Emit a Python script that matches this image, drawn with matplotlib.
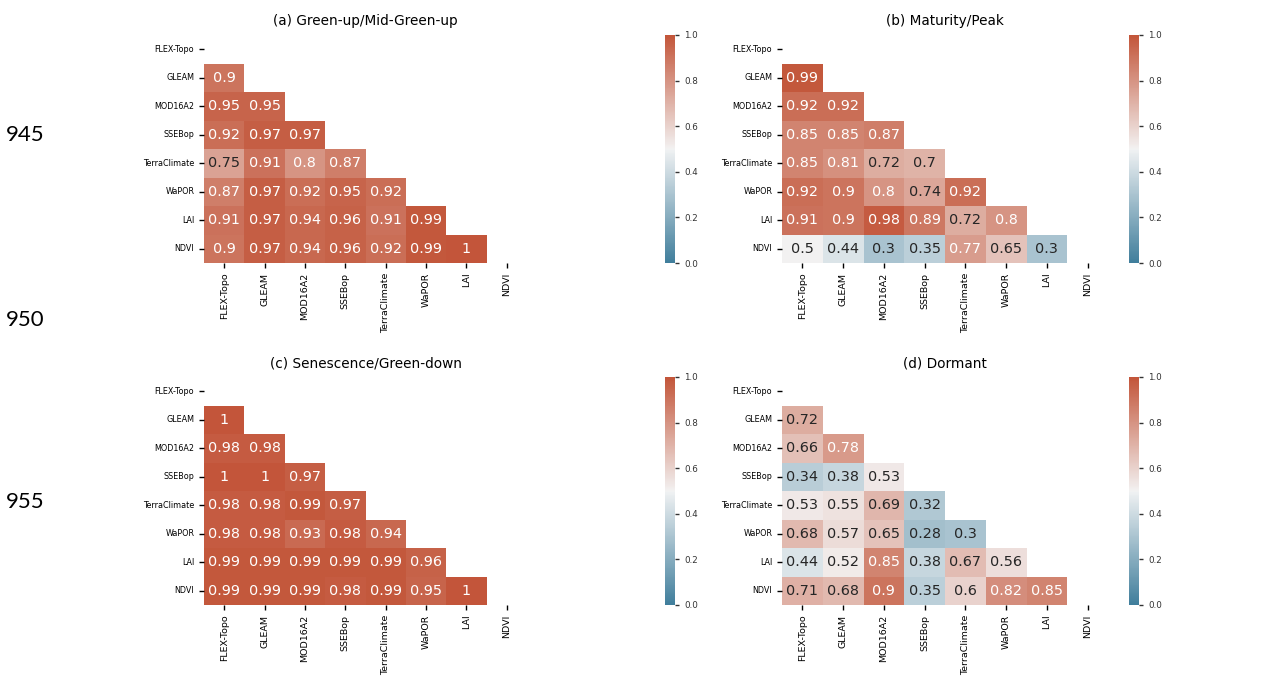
import numpy as np
import matplotlib
matplotlib.use('Agg')
import matplotlib.pyplot as plt
import seaborn as sns

LABELS = ['FLEX-Topo', 'GLEAM', 'MOD16A2', 'SSEBop', 'TerraClimate',
          'WaPOR', 'LAI', 'NDVI']

# lower-triangle rows (row i holds correlations with columns 0..i-1)
GREENUP = [
    [0.9],
    [0.95, 0.95],
    [0.92, 0.97, 0.97],
    [0.75, 0.91, 0.8, 0.87],
    [0.87, 0.97, 0.92, 0.95, 0.92],
    [0.91, 0.97, 0.94, 0.96, 0.91, 0.99],
    [0.9, 0.97, 0.94, 0.96, 0.92, 0.99, 1],
]
MATURITY = [
    [0.99],
    [0.92, 0.92],
    [0.85, 0.85, 0.87],
    [0.85, 0.81, 0.72, 0.7],
    [0.92, 0.9, 0.8, 0.74, 0.92],
    [0.91, 0.9, 0.98, 0.89, 0.72, 0.8],
    [0.5, 0.44, 0.3, 0.35, 0.77, 0.65, 0.3],
]
SENESCENCE = [
    [1],
    [0.98, 0.98],
    [1, 1, 0.97],
    [0.98, 0.98, 0.99, 0.97],
    [0.98, 0.98, 0.93, 0.98, 0.94],
    [0.99, 0.99, 0.99, 0.99, 0.99, 0.96],
    [0.99, 0.99, 0.99, 0.98, 0.99, 0.95, 1],
]
DORMANT = [
    [0.72],
    [0.66, 0.78],
    [0.34, 0.38, 0.53],
    [0.53, 0.55, 0.69, 0.32],
    [0.68, 0.57, 0.65, 0.28, 0.3],
    [0.44, 0.52, 0.85, 0.38, 0.67, 0.56],
    [0.71, 0.68, 0.9, 0.35, 0.6, 0.82, 0.85],
]
TITLES = ['(a) Green-up/Mid-Green-up', '(b) Maturity/Peak',
          '(c) Senescence/Green-down', '(d) Dormant']
LINE_NUMBERS = ['945', '950', '955']


def full_matrix(rows):
    n = len(LABELS)
    m = np.ones((n, n))
    for i, r in enumerate(rows, start=1):
        for j, v in enumerate(r):
            m[i, j] = v
            m[j, i] = v
    return m


W, H = 1274, 677
fig = plt.figure(figsize=(W / 100, H / 100), dpi=100)
cmap = sns.diverging_palette(230, 20, as_cmap=True)

# pixel boxes: (left, top, width, height)
heat_boxes = [(204, 35, 323, 228), (782, 35, 326, 228),
              (204, 377, 323, 228), (782, 377, 326, 228)]
cbar_boxes = [(665, 35, 10, 228), (1129, 35, 10, 228),
              (665, 377, 10, 228), (1129, 377, 10, 228)]


def to_fig(box):
    l, t, w, h = box
    return [l / W, 1 - (t + h) / H, w / W, h / H]


for data, title, hb, cb in zip([GREENUP, MATURITY, SENESCENCE, DORMANT],
                               TITLES, heat_boxes, cbar_boxes):
    m = full_matrix(data)
    mask = np.triu(np.ones_like(m, dtype=bool))
    ax = fig.add_axes(to_fig(hb))
    cax = fig.add_axes(to_fig(cb))
    sns.heatmap(m, mask=mask, cmap=cmap, vmin=0, vmax=1, annot=True,
                fmt='.2g', annot_kws={'fontsize': 10.4}, ax=ax, cbar_ax=cax,
                xticklabels=LABELS, yticklabels=LABELS)
    ax.set_title(title, fontsize=9.8, pad=7)
    ax.tick_params(axis='x', labelsize=6.8, rotation=90, length=3.5, width=1)
    ax.tick_params(axis='y', labelsize=5.8, rotation=0, length=3.5, width=1)
    cax.tick_params(labelsize=6.3, length=3, width=1, colors='#333333')
    cax.set_yticks([0, 0.2, 0.4, 0.6, 0.8, 1.0])
    cax.set_yticklabels(['0.0', '0.2', '0.4', '0.6', '0.8', '1.0'])

for txt, y in zip(LINE_NUMBERS, [135, 320, 502]):
    fig.text(6 / W, 1 - y / H, txt, fontsize=16, family='Lato',
             ha='left', va='center')

fig.savefig('out.png', dpi=100, facecolor='white')
